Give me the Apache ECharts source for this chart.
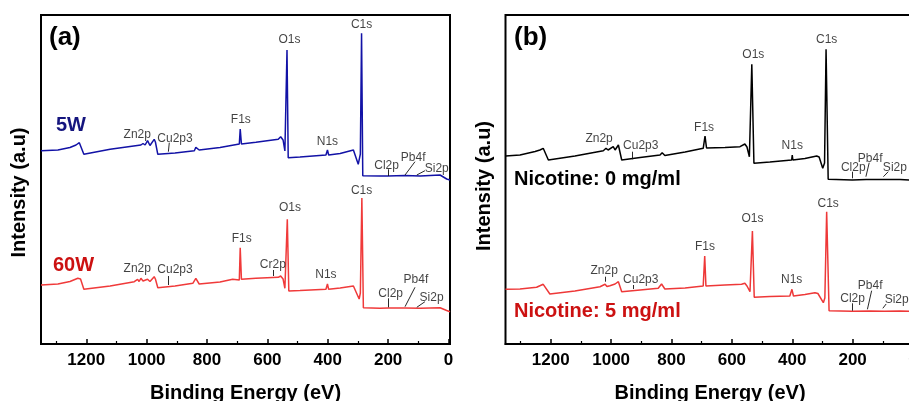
<!DOCTYPE html>
<html><head><meta charset="utf-8">
<script src="https://cdn.jsdelivr.net/npm/echarts@6/dist/echarts.min.js"></script>
<style>html,body{margin:0;padding:0;background:#fff}#c{width:909px;height:401px}</style>
</head><body><div id="c"></div>
<script>
// ---- data (binding energy in eV, intensity in arbitrary units) ----
const xTicks = [0, 200, 400, 600, 800, 1000, 1200];
const xMinorTicks = [100, 300, 500, 700, 900, 1100, 1300];

const energy5W = [1350,1294,1254,1234,1223,1219,1208,1121,1019,1012,1005,997,989,975,971,963,906,842,837,826,757,693,690,686,638,564,556,548,542,538,535,531,492,406,401,397,359,315,310,299,292,288,284,227,201,144,94,28,22,6,-5];
const counts5W = [193.3,194,196.5,199,201.3,200,189.7,194.7,199,200.5,199,203.3,198.5,204.7,202,189.7,191,193.3,196.7,194,196.5,200,215,200,201.7,204.7,207.3,204,193,193,294,186.3,187,189,194,189,190.5,194,192,179.7,190,310.7,168.3,168,168,168.5,168,169,167,165,164];

const energy60W = [1350,1294,1254,1228,1223,1219,1208,1121,1041,1030,1025,1019,1012,997,989,975,971,963,906,847,837,826,757,715,711,693,690,686,638,564,556,548,542,538,534,529,492,406,401,397,359,315,310,296,292,287,282,227,200,144,94,28,22,6,-5];
const counts60W = [59,60,62.5,65.7,66.3,65,54.7,58,62.3,64.7,62.5,65.7,63,64.7,62.5,67.3,65,56.3,58,60.7,65.7,60,62,64.7,63.5,64,96.3,64.7,65.7,66.7,68,65,55.7,55.7,124.7,53,53.5,54.7,60,54.7,56,58,57,45,51,146,36.3,35.7,36,36,35.8,36.3,35,33.5,32.3];

const energyNic0 = [1350,1302,1252,1236,1225,1219,1208,1120,1026,1017,1010,1004,993,987,976,972,965,904,838,831,822,755,695,689,684,623,573,557,550,542,538,534,527,474,402,400,398,358,319,311,299,293,288,281,201,155,95,43,13,-5];
const countsNic0 = [188,189,192.5,194,195.7,194.5,184,188,193.3,195.7,194,195,197.3,194,199,197,184,186.5,189,191.3,188.5,192,195.7,208,196,196.5,197.3,200,197,187.3,187.3,279.7,180.7,182,184,189,184,185.5,188,187,175.7,181,294.7,164.7,164,164.5,164.5,164.5,164,163];

const energyNic5 = [1350,1302,1247,1225,1219,1203,1120,1037,1020,1014,1004,987,982,976,972,965,904,844,833,822,755,695,690,686,623,568,557,550,540,537,532,526,474,408,401,396,358,325,315,297,292,286,278,202,142,95,43,-5];
const countsNic5 = [54.7,55,56.7,59.7,59,50,53,57.3,59.7,57.5,58.3,60,58,62.3,60.5,52.3,54,55.7,60,55,56,58,88,58,59,59.7,60.7,58,52.3,52.3,113,46.7,47.5,48,54.7,48,49.5,51.3,50.5,41.3,46,132.3,33.3,32.7,33,32.8,33,32.5];

// peak annotations: [text, energy, intensity]
const labels5W = [['Zn2p',1031,209],['Cu2p3',906,205.7],['F1s',688,224.7],['O1s',527,304],['N1s',401,202.3],['C1s',288,319.7],['Cl2p',205,178.3],['Pb4f',117,186.3],['Si2p',39,175]];
const leaders5W = [[925,201.3,928,192.3],[201,174.7,201,168],[111,182.3,144,169],[78,173.3,105,169]];
const labels60W = [['Zn2p',1031,75.7],['Cu2p3',906,74],['F1s',685,105.7],['Cr2p',582,79],['O1s',525,136.7],['N1s',406,69],['C1s',288,153],['Cl2p',191.5,50],['Pb4f',108,64],['Si2p',56,46.7]];
const leaders60W = [[930,68,930,59],[580,74,580,68],[199,45.7,199,36.7],[111,56.7,144,37.3],[78,42.3,105,36.7]];
const labelsNic0 = [['Zn2p',1040,205.7],['Cu2p3',902,198.3],['F1s',692,216.7],['O1s',529,289],['N1s',400,198],['C1s',286,304],['Cl2p',198,176.7],['Pb4f',142,185.7],['Si2p',60,176.7]];
const leadersNic0 = [[930,192.3,930,184.7],[201,172.3,201,165.7],[145,181.3,156,167.3],[82,172.3,98,167.3]];
const labelsNic5 = [['Zn2p',1023,73],['Cu2p3',902,64.7],['F1s',689,97.3],['O1s',532,125],['N1s',402,64.7],['C1s',281,140.7],['Cl2p',200,45],['Pb4f',142,58],['Si2p',54,44]];
const leadersNic5 = [[1020,67.3,1020,62.3],[927,59,927,55],[200,40.7,200,33.3],[137,53.3,151,34.7],[89,40,100,35.7]];

// ---- chart ----
const FONT = 'Liberation Sans, Arial, sans-serif';
const zip = (a, b) => a.map((v, i) => [v, b[i]]);
const chart = echarts.init(document.getElementById('c'), null, {renderer: 'canvas'});

function mainX(gi) {
  return {
    gridIndex: gi, type: 'value', min: -5, max: 1350, inverse: true,
    axisLine: {show: true, onZero: false, lineStyle: {color: '#000', width: 2}},
    axisTick: {show: true, inside: true, length: 5, customValues: xTicks, lineStyle: {color: '#000', width: 1.5}},
    axisLabel: {customValues: xTicks, margin: 8, fontSize: 17, fontWeight: 'bold', color: '#000', fontFamily: FONT,
      formatter: v => String(v), hideOverlap: false},
    splitLine: {show: false},
    name: 'Binding Energy (eV)', nameLocation: 'middle', nameGap: 39,
    nameTextStyle: {fontSize: 20, fontWeight: 'bold', color: '#000', fontFamily: FONT}
  };
}
function minorX(gi) {
  return {
    gridIndex: gi, type: 'value', min: -5, max: 1350, inverse: true, position: 'bottom',
    axisLine: {show: false},
    axisTick: {show: true, inside: true, length: 3, customValues: xMinorTicks, lineStyle: {color: '#000', width: 1.2}},
    axisLabel: {show: false}, splitLine: {show: false}
  };
}
function yAx(gi) {
  return {gridIndex: gi, type: 'value', min: 0, max: 329, show: false};
}
function spectrum(xi, yi, e, c, color) {
  return {type: 'line', xAxisIndex: xi, yAxisIndex: yi, data: zip(e, c), showSymbol: false, symbol: 'none',
    lineStyle: {color: color, width: 1.5}, silent: true, z: 3};
}
function annot(xi, yi, labels) {
  return {type: 'scatter', xAxisIndex: xi, yAxisIndex: yi, symbolSize: 1, silent: true, z: 5,
    itemStyle: {color: 'rgba(0,0,0,0)'},
    data: labels.map(l => ({name: l[0], value: [l[1], l[2]]})),
    label: {show: true, position: 'inside', formatter: '{b}', fontSize: 12, color: '#111', fontFamily: FONT}};
}
function leaders(xi, yi, segs) {
  return {type: 'lines', coordinateSystem: 'cartesian2d', xAxisIndex: xi, yAxisIndex: yi, silent: true, z: 4,
    lineStyle: {color: '#111', width: 0.9, opacity: 1, curveness: 0},
    data: segs.map(s => ({coords: [[s[0], s[1]], [s[2], s[3]]]}))};
}
function txt(x, y, text, size, color, rot) {
  return {type: 'text', x: x, y: y, rotation: rot || 0, silent: true,
    style: {text: text, fill: color, font: 'bold ' + size + 'px ' + FONT,
      align: rot ? 'center' : 'left', verticalAlign: 'middle', textAlign: rot ? 'center' : 'left', textVerticalAlign: 'middle'}};
}
const gridBase = {top: 15, width: 409, height: 329, show: true, borderColor: '#000', borderWidth: 2,
  backgroundColor: 'transparent', containLabel: false, outerBoundsMode: 'none'};

chart.setOption({
  animation: false,
  backgroundColor: '#fff',
  grid: [
    Object.assign({left: 41}, gridBase),
    Object.assign({left: 505.5}, gridBase)
  ],
  xAxis: [mainX(0), minorX(0), mainX(1), minorX(1)],
  yAxis: [yAx(0), yAx(1)],
  series: [
    spectrum(0, 0, energy5W, counts5W, '#1212a6'),
    spectrum(0, 0, energy60W, counts60W, '#f03a3a'),
    spectrum(2, 1, energyNic0, countsNic0, '#000000'),
    spectrum(2, 1, energyNic5, countsNic5, '#ee3838'),
    annot(0, 0, labels5W), annot(0, 0, labels60W), annot(2, 1, labelsNic0), annot(2, 1, labelsNic5),
    leaders(0, 0, leaders5W), leaders(0, 0, leaders60W), leaders(2, 1, leadersNic0), leaders(2, 1, leadersNic5)
  ],
  graphic: [
    txt(49, 38, '(a)', 26, '#000'),
    txt(56, 125, '5W', 20, '#15157e'),
    txt(53, 265, '60W', 20, '#cc1111'),
    txt(514, 38, '(b)', 26, '#000'),
    txt(514, 179, 'Nicotine: 0 mg/ml', 20, '#000'),
    txt(514, 311.5, 'Nicotine: 5 mg/ml', 20, '#cc1111'),
    txt(19, 192.5, 'Intensity (a.u)', 20, '#000', Math.PI / 2),
    txt(484, 186, 'Intensity (a.u)', 20, '#000', Math.PI / 2)
  ]
});
</script>
</body></html>
